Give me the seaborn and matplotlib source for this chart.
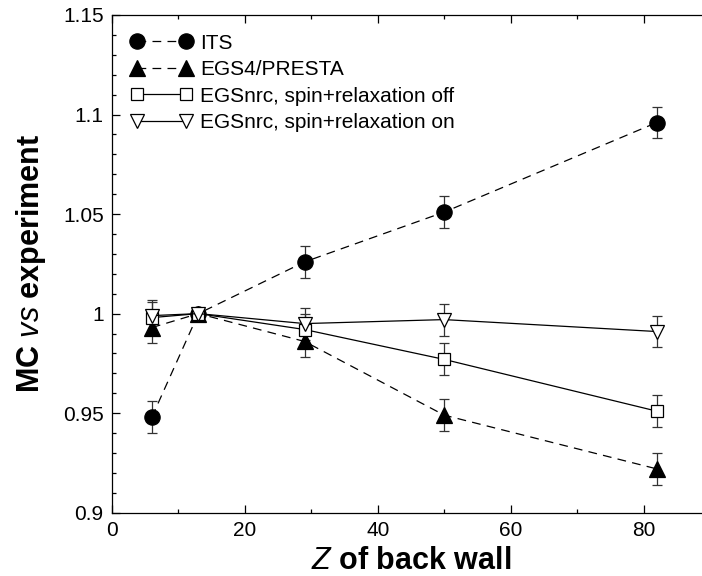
import matplotlib
matplotlib.use("Agg")
import matplotlib.pyplot as plt
from matplotlib.ticker import MultipleLocator
import seaborn as sns
import pandas as pd

# Atomic number of the back wall material
z_values = [6, 13, 29, 50, 82]

# Ratio of Monte Carlo result to experiment for each code
its = [0.948, 1.000, 1.026, 1.051, 1.096]
egs4_presta = [0.993, 1.000, 0.986, 0.949, 0.922]
egsnrc_off = [0.998, 1.000, 0.992, 0.977, 0.951]
egsnrc_on = [0.999, 1.000, 0.995, 0.997, 0.991]

# Uncertainty on each ratio (normalisation point at Z=13)
errors = [0.008, 0.002, 0.008, 0.008, 0.008]

labels = ["ITS", "EGS4/PRESTA",
          "EGSnrc, spin+relaxation off", "EGSnrc, spin+relaxation on"]

sns.set_theme(style="ticks")
plt.rcParams["font.family"] = ["Liberation Sans", "DejaVu Sans"]
plt.rcParams["mathtext.fontset"] = "custom"
plt.rcParams["mathtext.rm"] = "Liberation Sans"
plt.rcParams["mathtext.it"] = "Liberation Sans:italic"
plt.rcParams["mathtext.bf"] = "Liberation Sans:bold"
for key in ("text.color", "axes.labelcolor", "xtick.color", "ytick.color",
            "axes.edgecolor"):
    plt.rcParams[key] = "black"

fig = plt.figure(figsize=(7.02, 5.76), dpi=100)
ax = fig.add_axes([112 / 702, 63.3 / 576, 598 / 702, 497.7 / 576])

series = [
    (its, dict(marker="o", ms=11, mfc="black", mec="black"), (0, (7, 5))),
    (egs4_presta, dict(marker="^", ms=11, mfc="black", mec="black"), (0, (7, 5))),
    (egsnrc_off, dict(marker="s", ms=8.5, mfc="white", mec="black"), "-"),
    (egsnrc_on, dict(marker="v", ms=10.5, mfc="white", mec="black"), "-"),
]

for values, mstyle, ls in series:
    ax.errorbar(z_values, values, yerr=errors, fmt="none", ecolor="#333333",
                elinewidth=0.9, capsize=3.6, capthick=0.9, zorder=2)

for (values, mstyle, ls), label in zip(series, labels):
    df = pd.DataFrame({"Z": z_values, "ratio": values})
    sns.lineplot(data=df, x="Z", y="ratio", ax=ax, color="black", lw=0.9,
                 linestyle=ls, mew=0.9, label=label, zorder=3, **mstyle)

ax.set_xlim(0, 90)
ax.set_ylim(0.9, 1.15)
ax.xaxis.set_minor_locator(MultipleLocator(10))
ax.yaxis.set_minor_locator(MultipleLocator(0.01))
ax.set_yticks([0.9, 0.95, 1.0, 1.05, 1.1, 1.15])
ax.set_yticklabels(["0.9", "0.95", "1", "1.05", "1.1", "1.15"])
ax.set_xticks([0, 20, 40, 60, 80])
ax.set_xticklabels(["0", "20", "40", "60", "80"])

ax.tick_params(which="both", direction="in", top=True, right=False,
               color="black", width=0.9)
ax.tick_params(which="major", length=5.5, labelsize=15, pad=6)
ax.tick_params(which="minor", length=3)
for side in ("left", "bottom", "top"):
    ax.spines[side].set_linewidth(0.9)
    ax.spines[side].set_color("black")
ax.spines["right"].set_visible(False)

ax.set_xlabel(r"$\mathit{Z}$ $\mathbf{of\ back\ wall}$", fontsize=22, labelpad=4)
ax.set_ylabel(r"$\mathbf{MC}$ $\mathit{vs}$ $\mathbf{experiment}$", fontsize=22,
              labelpad=11)

leg = ax.legend(loc="upper left", frameon=False, fontsize=15, numpoints=2,
                handlelength=2.96, handletextpad=0.37, borderaxespad=0.4,
                borderpad=0.5, labelspacing=0.36)

fig.savefig("out.png", dpi=100)
